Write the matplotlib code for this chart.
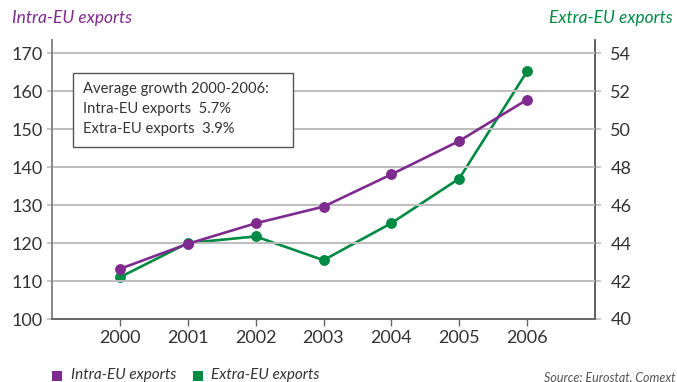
import matplotlib
matplotlib.use("Agg")
import matplotlib.pyplot as plt
from matplotlib.patches import Rectangle

years = [2000, 2001, 2002, 2003, 2004, 2005, 2006]
intra_eu = [113.2, 119.8, 125.2, 129.6, 138.1, 146.9, 157.8]
extra_eu = [42.2, 44.0, 44.35, 43.1, 45.05, 47.4, 53.05]
left_ticks = [100, 110, 120, 130, 140, 150, 160, 170]
right_ticks = [40, 42, 44, 46, 48, 50, 52, 54]

PURPLE = "#7f2a8e"
GREEN = "#008a43"
GRID = "#bdbdbd"
TXT = "#333333"

plt.rcParams['font.family'] = ['Lato', 'DejaVu Sans']

fig = plt.figure(figsize=(6.77, 3.82), dpi=100)
ax = fig.add_axes([52/677, 1-319/382, (595-52)/677, (319-40)/382])
ax2 = ax.twinx()

ax.set_xlim(1999, 2007)
ax.set_ylim(100, 173.5)
ax2.set_ylim(40, 54.7)

for t in left_ticks[1:]:
    ax.axhline(t, color=GRID, lw=1.4, zorder=0)

ax.plot(years, intra_eu, color=PURPLE, lw=1.9, marker='o', ms=6.8, zorder=3)
ax2.plot(years, extra_eu, color=GREEN, lw=1.9, marker='o', ms=6.8, zorder=3)
ax.set_zorder(ax2.get_zorder() + 1)
ax.patch.set_visible(False)

ax.set_xticks(years)
ax.set_xticklabels([str(y) for y in years])
ax.set_yticks(left_ticks)
ax2.set_yticks(right_ticks)

for a in (ax, ax2):
    a.spines['top'].set_visible(False)
ax.spines['right'].set_visible(False)
ax2.spines['left'].set_visible(False)
ax2.spines['bottom'].set_visible(False)
ax.spines['left'].set_color('#888888')
ax.spines['left'].set_linewidth(1.4)
ax.spines['bottom'].set_color('#666666')
ax.spines['bottom'].set_linewidth(1.4)
ax2.spines['right'].set_color('#444444')
ax2.spines['right'].set_linewidth(1.2)

ax.tick_params(axis='y', direction='out', length=3.5, width=1.2, color=GRID,
               labelsize=13, labelcolor=TXT, pad=3)
ax.tick_params(axis='x', direction='out', length=5, width=1, color='#666666',
               labelsize=13, labelcolor=TXT, pad=3)
ax2.tick_params(axis='y', direction='out', length=4, width=1.2, color=GRID,
                labelsize=13, labelcolor=TXT, pad=7)

fig.text(12/677, 1-18/382, "Intra-EU exports", color=PURPLE, fontsize=12.5,
         style='italic', ha='left', va='center')
fig.text(673/677, 1-18/382, "Extra-EU exports", color=GREEN, fontsize=12.5,
         style='italic', ha='right', va='center')

box = Rectangle((73/677, 1-147/382), (293-73)/677, (147-73)/382,
                transform=fig.transFigure, fill=True, facecolor='white',
                edgecolor='#555555', lw=1.0, zorder=5)
fig.patches.append(box)
lines = ["Average growth 2000-2006:", "Intra-EU exports  5.7%", "Extra-EU exports  3.9%"]
for i, s in enumerate(lines):
    fig.text(83/677, 1-(89 + i*20)/382, s, fontsize=10.6, color=TXT,
             ha='left', va='center', zorder=6)

# legend
fig.patches.append(Rectangle((52/677, 1-381/382), 10/677, 10/382,
                             transform=fig.transFigure, facecolor=PURPLE, edgecolor='none'))
fig.text(71/677, 1-375/382, "Intra-EU exports", fontsize=11, style='italic',
         color=TXT, ha='left', va='center')
fig.patches.append(Rectangle((193/677, 1-381/382), 10/677, 10/382,
                             transform=fig.transFigure, facecolor=GREEN, edgecolor='none'))
fig.text(211/677, 1-375/382, "Extra-EU exports", fontsize=11, style='italic',
         color=TXT, ha='left', va='center')
fig.text(676/677, 1-377/382, "Source: Eurostat, Comext", fontsize=9, style='italic',
         color='#555555', ha='right', va='center')

fig.savefig("out.png", dpi=100)
